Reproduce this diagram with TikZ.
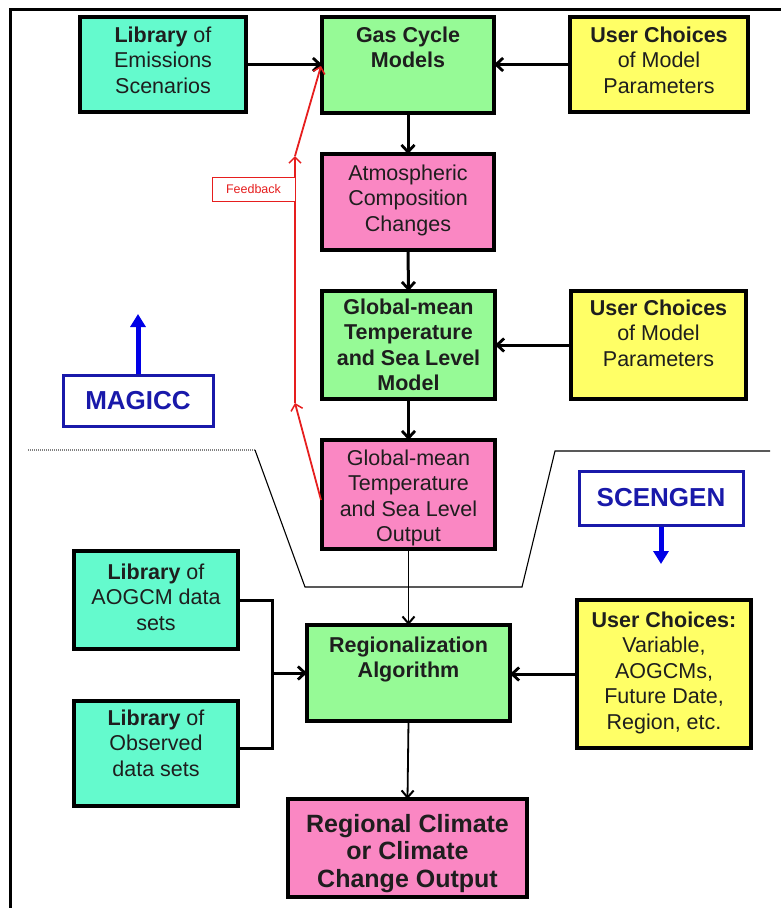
\documentclass[tikz,border=0pt]{standalone}
\usepackage{fontspec}
\setmainfont{Liberation Sans}
\usetikzlibrary{arrows.meta,calc}
\definecolor{cyanc}{RGB}{100,250,205}
\definecolor{greenc}{RGB}{150,250,150}
\definecolor{yellowc}{RGB}{255,255,102}
\definecolor{pinkc}{RGB}{250,135,195}
\definecolor{txtc}{RGB}{30,30,30}
\definecolor{navyc}{RGB}{25,25,170}
\definecolor{bluec}{RGB}{0,0,230}
\definecolor{redc}{RGB}{230,30,30}
\newcommand\fs{\fontsize{21.5}{25.5}\selectfont}
\newcommand\fsb{\fontsize{25}{27.5}\selectfont\bfseries}
\tikzset{
  box/.style={draw=black, line width=4pt, inner sep=0pt, outer sep=0pt},
  txt/.style={anchor=north, inner sep=0pt, align=center, text=txtc, font=\fs},
  conn/.style={draw=black, line width=3pt, -{Straight Barb[length=7pt,width=13pt,line width=2.8pt]}},
  thinconn/.style={draw=black, line width=1.8pt, -{Straight Barb[length=7pt,width=12pt,line width=2pt]}},
  plainconn/.style={draw=black, line width=3pt},
  blu/.style={draw=bluec, line width=5pt, -{Triangle[length=13pt,width=15pt]}},
  fb/.style={draw=redc, line width=1.8pt, -{Straight Barb[length=6pt,width=12pt,line width=1.5pt]}},
  tagbox/.style={draw=navyc, line width=3pt, fill=white, text=navyc, inner sep=0pt, font=\fontsize{26}{28}\selectfont\bfseries},
}
\begin{document}
\begin{tikzpicture}[x=1pt,y=-1pt]
\useasboundingbox (0,0) rectangle (781,908);
% frame
\draw[line width=3pt] (10,908) -- (10,9.5) -- (781,9.5);

% boxes
\node[box, fill=cyanc,   minimum width=166pt, minimum height=95pt]  (libem) at (163,64.5) {};
\node[box, fill=greenc,  minimum width=172pt, minimum height=96pt]  (gas)   at (408,65) {};
\node[box, fill=yellowc, minimum width=178pt, minimum height=95pt]  (uc1)   at (659,64.5) {};
\node[box, fill=pinkc,   minimum width=172pt, minimum height=96pt]  (atm)   at (408,202) {};
\node[box, fill=greenc,  minimum width=173pt, minimum height=108pt] (gmt)   at (408.5,345) {};
\node[box, fill=yellowc, minimum width=175pt, minimum height=108pt] (uc2)   at (658.5,345) {};
\node[box, fill=pinkc,   minimum width=173pt, minimum height=109pt] (out)   at (408.5,494.5) {};
\node[box, fill=cyanc,   minimum width=164pt, minimum height=98pt]  (aog)   at (156,600) {};
\node[box, fill=cyanc,   minimum width=164pt, minimum height=105pt] (obs)   at (156,753.5) {};
\node[box, fill=greenc,  minimum width=203pt, minimum height=96pt]  (reg)   at (408.5,673) {};
\node[box, fill=yellowc, minimum width=174pt, minimum height=148pt] (uc3)   at (664,674) {};
\node[box, fill=pinkc,   minimum width=239pt, minimum height=98pt]  (rgo)   at (407.5,848) {};

% texts
\node[txt] (libem-t) at ([yshift=-7.2pt]libem.north) {\strut\textbf{Library} of\\Emissions\\Scenarios};
\node[txt] (gas-t)   at ([yshift=-7.2pt]gas.north)   {\strut\textbf{Gas Cycle}\\\textbf{Models}};
\node[txt] (uc1-t)   at ([yshift=-7.2pt]uc1.north)   {\strut\textbf{User Choices}\\of Model\\Parameters};
\node[txt] (atm-t)   at ([yshift=-8.2pt]atm.north)   {\strut Atmospheric\\Composition\\Changes};
\node[txt, font=\fs\bfseries] (gmt-t) at ([yshift=-5.2pt]gmt.north) {\strut Global-mean\\Temperature\\and Sea Level\\Model};
\node[txt] (uc2-t)   at ([yshift=-6.2pt]uc2.north)   {\strut\textbf{User Choices}\\of Model\\Parameters};
\node[txt] (out-t)   at ([yshift=-7.2pt]out.north)   {\strut Global-mean\\Temperature\\and Sea Level\\Output};
\node[txt] (aog-t)   at ([yshift=-10.2pt]aog.north)  {\strut\textbf{Library} of\\AOGCM data\\sets};
\node[txt] (obs-t)   at ([yshift=-6.2pt]obs.north)   {\strut\textbf{Library} of\\Observed\\data sets};
\node[txt, font=\fs\bfseries] (reg-t) at ([yshift=-9.2pt]reg.north) {\strut Regionalization\\Algorithm};
\node[txt] (uc3-t)   at ([yshift=-9.2pt]uc3.north)   {\strut\textbf{User Choices:}\\Variable,\\AOGCMs,\\Future Date,\\Region, etc.};
\node[txt, font=\fsb] (rgo-t) at ([yshift=-13.7pt]rgo.north) {\strut Regional Climate\\or Climate\\Change Output};

% tags
\node[tagbox, minimum width=150pt, minimum height=51pt] (mag) at (138,401) {MAGICC};
\node[tagbox, minimum width=164pt, minimum height=54pt] (scen) at (661,498) {SCENGEN};
\coordinate (magtip) at (138,314);
\coordinate (sctip) at (661,564);
\draw[blu] (mag.north) -- (magtip);
\draw[blu] (scen.south) -- (sctip);

% separator
\draw[gray, line width=1.3pt, dash pattern=on 1pt off 1pt] (28,450) -- (255,450);
\draw[black, line width=1.1pt] (255,450) -- (305,587) -- (522,587) -- (555,451) -- (770,451);

% connectors
\draw[conn] (libem.east) -- (libem.east -| gas.west);
\draw[conn] (uc1.west) -- (uc1.west -| gas.east);
\draw[conn] (gas.south) -- (atm.north);
\draw[conn] (atm.south) -- (gmt.north);
\draw[conn] (uc2.west) -- (gmt.east);
\draw[conn] (gmt.south) -- (out.north);
\draw[thinconn] (out.south) -- (reg.north);
\coordinate (j) at (272,673);
\draw[plainconn] (aog.east) -- (aog.east -| j) -- ([yshift=5.5pt]obs.east -| j) -- ([yshift=5.5pt]obs.east);
\draw[conn] (j) -- (reg.west);
\draw[conn] (uc3.west) -- (uc3.west -| reg.east);
\draw[thinconn] (reg.south) -- (rgo.north);

% feedback
\coordinate (fb0) at (321,500);
\coordinate (fb1) at (295,403);
\coordinate (fb2) at (295,156);
\coordinate (fb3) at (321,66);
\draw[fb] (fb0) -- (fb1);
\draw[fb] (fb1) -- (fb2);
\draw[fb] (fb2) -- (fb3);
\node[draw=redc, line width=1pt, fill=white, text=redc, inner sep=0pt,
      font=\fontsize{12.5}{14}\selectfont, minimum width=83pt, minimum height=24pt] (fbl) at (253.5,189.5) {Feedback};
\end{tikzpicture}
\end{document}
